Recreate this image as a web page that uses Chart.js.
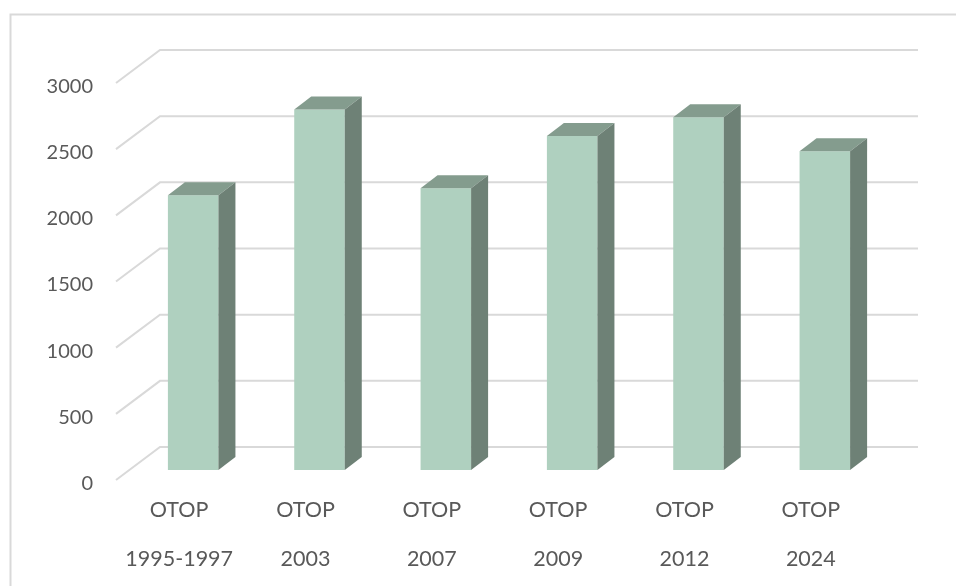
<!DOCTYPE html>
<html>
<head>
<meta charset="utf-8">
<title>OTOP</title>
<style>
  html, body { margin: 0; padding: 0; background: #ffffff; }
  canvas { display: block; }
</style>
<script src="https://cdn.jsdelivr.net/npm/chart.js@4/dist/chart.umd.min.js"></script>
</head>
<body>
<canvas id="chart" width="956" height="586"></canvas>
<script>
const categories = [
  ['OTOP', '1995-1997'],
  ['OTOP', '2003'],
  ['OTOP', '2007'],
  ['OTOP', '2009'],
  ['OTOP', '2012'],
  ['OTOP', '2024']
];
const otopValues = [2077, 2725, 2130, 2523, 2666, 2409];
const axisMax = 3000;
const axisStep = 500;

const frontColor = '#afd0bf';
const topColor = '#849c8e';
const sideColor = '#6e8176';
const gridColor = '#d9d9d9';
const textColor = '#595959';

// Oblique projection: floor depth of the wall, and where bars sit inside it.
const wallShift = { x: 44, y: -33 };
const barShift = { x: 14, y: -10 };
const barDepth = { x: 17, y: -13 };

const frameAndWall = {
  id: 'frameAndWall',
  beforeDatasetsDraw(chart) {
    const { ctx, chartArea, scales } = chart;
    ctx.save();
    ctx.strokeStyle = gridColor;
    ctx.lineWidth = 2;
    ctx.beginPath();
    ctx.moveTo(10.5, 586);
    ctx.lineTo(10.5, 14.5);
    ctx.lineTo(956, 14.5);
    ctx.stroke();
    scales.y.ticks.forEach((tick) => {
      const py = scales.y.getPixelForValue(tick.value);
      ctx.beginPath();
      ctx.moveTo(chartArea.left, py);
      ctx.lineTo(chartArea.left + wallShift.x, py + wallShift.y);
      ctx.lineTo(chartArea.right + wallShift.x, py + wallShift.y);
      ctx.stroke();
    });
    ctx.restore();
    // Bars stand partway back on the floor.
    ctx.save();
    ctx.translate(barShift.x, barShift.y);
  },
  afterDatasetsDraw(chart) {
    const { ctx } = chart;
    chart.getDatasetMeta(0).data.forEach((bar) => {
      const p = bar.getProps(['x', 'y', 'base', 'width'], true);
      const l = p.x - p.width / 2;
      const r = p.x + p.width / 2;
      ctx.fillStyle = topColor;
      ctx.beginPath();
      ctx.moveTo(l, p.y);
      ctx.lineTo(l + barDepth.x, p.y + barDepth.y);
      ctx.lineTo(r + barDepth.x, p.y + barDepth.y);
      ctx.lineTo(r, p.y);
      ctx.closePath();
      ctx.fill();
      ctx.fillStyle = sideColor;
      ctx.beginPath();
      ctx.moveTo(r, p.y);
      ctx.lineTo(r + barDepth.x, p.y + barDepth.y);
      ctx.lineTo(r + barDepth.x, p.base + barDepth.y);
      ctx.lineTo(r, p.base);
      ctx.closePath();
      ctx.fill();
    });
    ctx.restore();
  }
};

new Chart(document.getElementById('chart'), {
  type: 'bar',
  data: {
    labels: categories,
    datasets: [{
      label: 'OTOP',
      data: otopValues,
      backgroundColor: frontColor,
      barPercentage: 0.4,
      categoryPercentage: 1,
      clip: false
    }]
  },
  plugins: [frameAndWall],
  options: {
    responsive: false,
    animation: false,
    layout: { padding: { top: 83, right: 82, left: 0, bottom: 0 } },
    plugins: { legend: { display: false }, tooltip: { enabled: false } },
    scales: {
      x: {
        afterFit(scale) { scale.height = 106; },
        grid: { display: false },
        border: { display: false },
        ticks: {
          color: textColor,
          padding: -2,
          maxRotation: 0,
          autoSkip: false,
          font: { family: 'Lato, sans-serif', size: 21.5, lineHeight: 2.26 }
        }
      },
      y: {
        min: 0,
        max: axisMax,
        afterFit(scale) { scale.width = 116; },
        grid: { display: false },
        border: { display: false },
        ticks: {
          stepSize: axisStep,
          color: textColor,
          padding: 15,
          // The empty first line settles the numerals slightly below the wall ticks.
          callback: (value) => ['', String(value)],
          font: { family: 'Lato, sans-serif', size: 20, lineHeight: 0.35 }
        }
      }
    }
  }
});
</script>
</body>
</html>
